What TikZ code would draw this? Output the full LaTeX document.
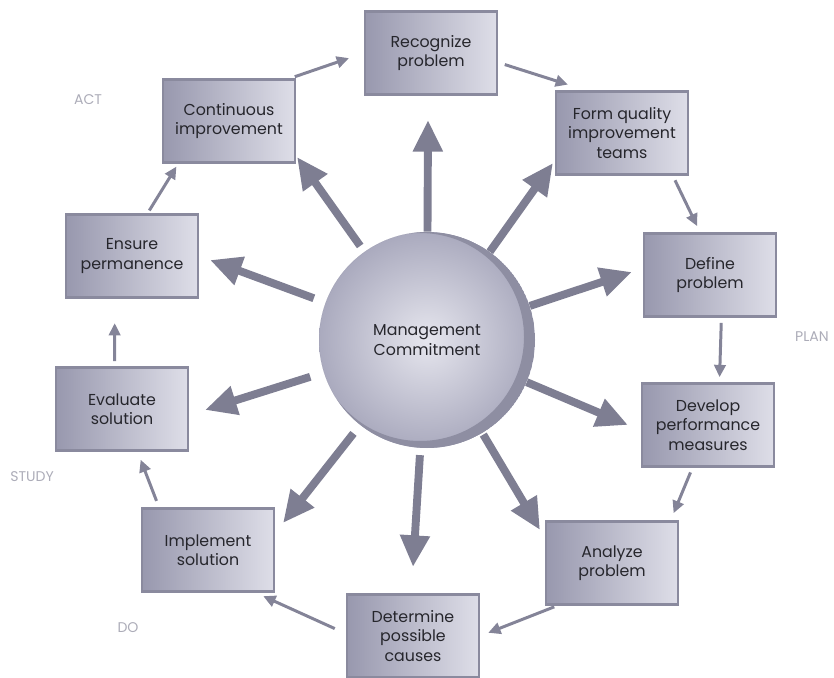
\documentclass[tikz,border=0pt]{standalone}
\usepackage{fontspec}
\setmainfont{Poppins}
\usepackage{tikz}
\usetikzlibrary{arrows.meta}
\usepackage{xcolor}
\definecolor{boxdark}{RGB}{152,152,174}
\definecolor{boxlight}{RGB}{222,222,232}
\definecolor{boxedge}{RGB}{138,138,158}
\definecolor{spokegray}{RGB}{126,126,146}
\definecolor{flowgray}{RGB}{132,132,152}
\definecolor{phasegray}{RGB}{172,172,184}
\definecolor{inkgray}{RGB}{38,38,44}
\definecolor{ballin}{RGB}{230,230,238}
\definecolor{ballout}{RGB}{170,170,190}
\definecolor{ringgray}{RGB}{142,142,162}

\begin{document}
\begin{tikzpicture}[x=0.02cm, y=-0.02cm,
    stepbox/.style={rectangle, draw=boxedge, line width=1.2pt, left color=boxdark, right color=boxlight,
        minimum width=2.64cm, minimum height=1.66cm, align=center, text=inkgray,
        font=\fontsize{9}{11}\selectfont},
    hub/.style={circle, minimum size=4.32cm, inner color=ballin, outer color=ballout, align=center,
        text=inkgray, font=\fontsize{9}{11}\selectfont},
    spoke/.style={draw=spokegray, line width=4.5pt, -{Triangle[length=18pt, width=16pt]}},
    flow/.style={draw=flowgray, line width=1.7pt, -{Triangle[length=7pt, width=6.5pt]}},
    phase/.style={text=phasegray, font=\fontsize{8}{9}\selectfont}]
    \useasboundingbox (0,0) rectangle (834,678);
    \node[hub] (mc) at (427,340) {Management\\Commitment};
    \begin{scope}
        \clip (mc.center) circle[radius=108];
        \fill[ringgray, even odd rule] (mc.center) circle[radius=108]
            ([shift={(-7,-3)}]mc.center) circle[radius=104];
    \end{scope}
    \node[stepbox] (rec) at (431,53) {Recognize\\problem};
    \node[stepbox] (form) at (622,133) {Form quality\\improvement\\teams};
    \node[stepbox] (def) at (710,275) {Define\\problem};
    \node[stepbox] (dev) at (708,425) {Develop\\performance\\measures};
    \node[stepbox] (ana) at (612,563) {Analyze\\problem};
    \node[stepbox] (det) at (413,636) {Determine\\possible\\causes};
    \node[stepbox] (imp) at (208,550) {Implement\\solution};
    \node[stepbox] (eva) at (122,409) {Evaluate\\solution};
    \node[stepbox] (ens) at (132,256) {Ensure\\permanence};
    \node[stepbox] (con) at (229,121) {Continuous\\improvement};
    \node[phase] (act) at (88,100) {ACT};
    \node[phase] (plan) at (812,337) {PLAN};
    \node[phase] (study) at (32,477) {STUDY};
    \node[phase] (do) at (128,628) {DO};
    \coordinate (t-rec) at (428,120);
    \coordinate (t-form) at (553,163);
    \coordinate (t-def) at (632,272);
    \coordinate (t-dev) at (628,425);
    \coordinate (t-ana) at (540,530);
    \coordinate (t-det) at (413,567);
    \coordinate (t-imp) at (283,523);
    \coordinate (t-eva) at (205,410);
    \coordinate (t-ens) at (210,260);
    \coordinate (t-con) at (297,157);
    \foreach \t/\g in {rec/0,form/0,def/0,dev/0,ana/1,det/4,imp/6,eva/8,ens/7,con/4}
        \draw[spoke, shorten <=\g pt] (mc) -- (t-\t);
    \draw[flow, shorten <=4pt, shorten >=11pt] (rec.-8) -- (form.130);
    \draw[flow, shorten <=3pt, shorten >=4pt] (form.-40) -- (def.103);
    \draw[flow, shorten <=3pt, shorten >=3pt] (def.-75) -- (dev.75);
    \draw[flow, shorten <=3pt, shorten >=4.5pt] (dev.-110) -- (ana.36);
    \draw[flow, shorten <=2pt, shorten >=5pt] (ana.-142) -- (det.east);
    \draw[flow, shorten <=7pt, shorten >=5pt] (det.178) -- (imp.-42);
    \draw[flow, shorten <=4pt, shorten >=5pt] (imp.139) -- (eva.-70);
    \draw[flow, shorten <=3pt, shorten >=14pt] (eva.100) -- (ens.-112);
    \draw[flow, shorten <=2pt, shorten >=2pt] (ens.70) -- (con.-140);
    \draw[flow, shorten <=3pt, shorten >=9pt] (con.35) -- (rec.180);
\end{tikzpicture}
\end{document}
